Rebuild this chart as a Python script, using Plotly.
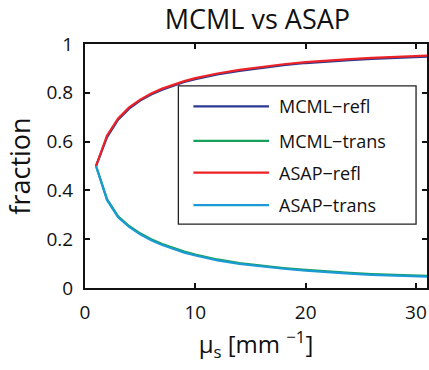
import plotly.graph_objects as go

# ---- data ----
mus = [1, 2, 3, 4, 5, 6, 7, 8, 9, 10, 12, 14, 16, 18, 20, 22, 24, 26, 28, 30, 32]
mcml_refl = [0.5, 0.618, 0.690, 0.735, 0.768, 0.793, 0.813, 0.830, 0.844, 0.856, 0.875, 0.890, 0.903, 0.913, 0.922, 0.929, 0.934, 0.939, 0.943, 0.947, 0.950]
mcml_trans = [0.5, 0.364, 0.294, 0.254, 0.224, 0.200, 0.180, 0.163, 0.149, 0.137, 0.117, 0.102, 0.091, 0.082, 0.074, 0.067, 0.062, 0.057, 0.053, 0.050, 0.048]
asap_refl = [0.5, 0.625, 0.695, 0.740, 0.772, 0.797, 0.817, 0.834, 0.848, 0.860, 0.879, 0.894, 0.907, 0.917, 0.926, 0.933, 0.938, 0.943, 0.947, 0.951, 0.954]
asap_trans = [0.5, 0.360, 0.290, 0.250, 0.220, 0.196, 0.176, 0.159, 0.145, 0.133, 0.113, 0.099, 0.088, 0.079, 0.071, 0.064, 0.059, 0.054, 0.050, 0.047, 0.045]

names = ["MCML\u2212refl", "MCML\u2212trans", "ASAP\u2212refl", "ASAP\u2212trans"]
series = [mcml_refl, mcml_trans, asap_refl, asap_trans]
colors = ["#2b3990", "#17a05a", "#ec2227", "#1b9ad6"]

x_ticks = [0, 10, 20, 30]
y_ticks = [0, 0.2, 0.4, 0.6, 0.8, 1]
y_ticklabels = ["0", "0.2", "0.4", "0.6", "0.8", "1"]

FONT = "Open Sans"

fig = go.Figure()
for name, ys, c in zip(names, series, colors):
    fig.add_trace(go.Scatter(x=mus, y=ys, mode="lines", name=name,
                             line=dict(color=c, width=2.2), showlegend=False))

# ---- manual legend (MATLAB style) ----
L = dict(x0=0.273, x1=0.968, y0=0.262, y1=0.828)
fig.add_shape(type="rect", xref="paper", yref="paper", x0=L["x0"], x1=L["x1"],
              y0=L["y0"], y1=L["y1"], line=dict(color="#222", width=1.3),
              fillcolor="white", layer="above")
row_y = [0.744, 0.603, 0.473, 0.340]
for name, c, yy in zip(names, colors, row_y):
    fig.add_shape(type="line", xref="paper", yref="paper", x0=0.317, x1=0.538,
                  y0=yy, y1=yy, line=dict(color=c, width=2.2), layer="above")
    fig.add_annotation(xref="paper", yref="paper", x=0.561, y=yy, text=name,
                       showarrow=False, xanchor="left", yanchor="middle",
                       font=dict(family=FONT, size=18, color="#111"))

axis_common = dict(showline=True, linecolor="#111", linewidth=2, mirror="ticks",
                   ticks="inside", ticklen=5, tickwidth=2, tickcolor="#111",
                   showgrid=False, zeroline=False,
                   tickfont=dict(family=FONT, size=19, color="#111"))

fig.update_layout(
    width=429, height=370,
    margin=dict(l=85, r=0, t=44, b=82),
    paper_bgcolor="white", plot_bgcolor="white",
    title=dict(text="MCML vs ASAP", x=0.6, xanchor="center", y=0.972, yanchor="top",
               font=dict(family=FONT, size=27, color="#111")),
    xaxis=dict(range=[0, 31.0], tickvals=x_ticks, ticklabelstandoff=6,
               title=dict(text="\u03bc<sub>s</sub> [mm <sup>\u22121</sup>]", standoff=12,
                          font=dict(family=FONT, size=24, color="#111")),
               **axis_common),
    yaxis=dict(range=[0, 1], tickvals=y_ticks, ticktext=y_ticklabels, ticklabelstandoff=6,
               title=dict(text="fraction", standoff=8,
                          font=dict(family=FONT, size=27, color="#111")),
               **axis_common),
)

fig.write_html("out.html")
